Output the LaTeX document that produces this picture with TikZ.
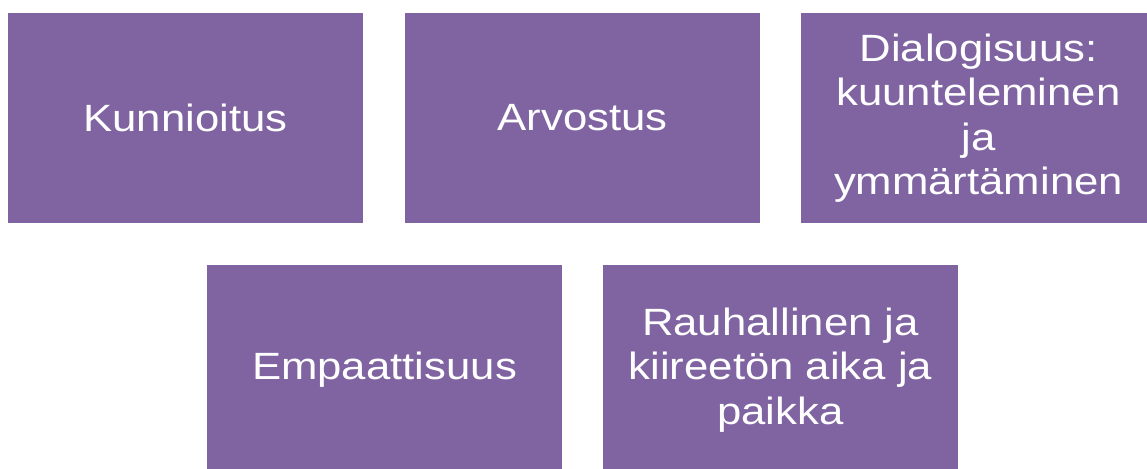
\documentclass[tikz,border=0pt]{standalone}
\usepackage{fontspec}
\setmainfont{Liberation Sans}
\newfontfamily\boxfont[FakeStretch=1.15]{Liberation Sans}
\usetikzlibrary{positioning}
\definecolor{teemavari}{HTML}{8064A2}

\begin{document}
\begin{tikzpicture}[node distance=42pt, every node/.style={font=\boxfont\fontsize{38}{44.5}\selectfont},
  teema/.style={fill=teemavari, text=white, minimum width=355pt, minimum height=210pt, align=center, inner sep=0pt, outer sep=0pt}]
\useasboundingbox (0,0) rectangle (1147pt,-468pt);
\clip (0,0) rectangle (1147pt,-468pt);
\node[teema, anchor=north west] (kun) at (8pt,-13pt) {Kunnioitus};
\node[teema, right=42pt of kun] (arv) {Arvostus};
\node[teema, right=41pt of arv] (dia) {Dialogisuus:\\ kuunteleminen\\ ja\\ ymmärtäminen};
\node[teema, below=42pt of kun, xshift=199pt] (emp) {Empaattisuus};
\node[teema, right=41pt of emp] (rau) {Rauhallinen ja\\ kiireetön aika ja\\ paikka};
\end{tikzpicture}
\end{document}
